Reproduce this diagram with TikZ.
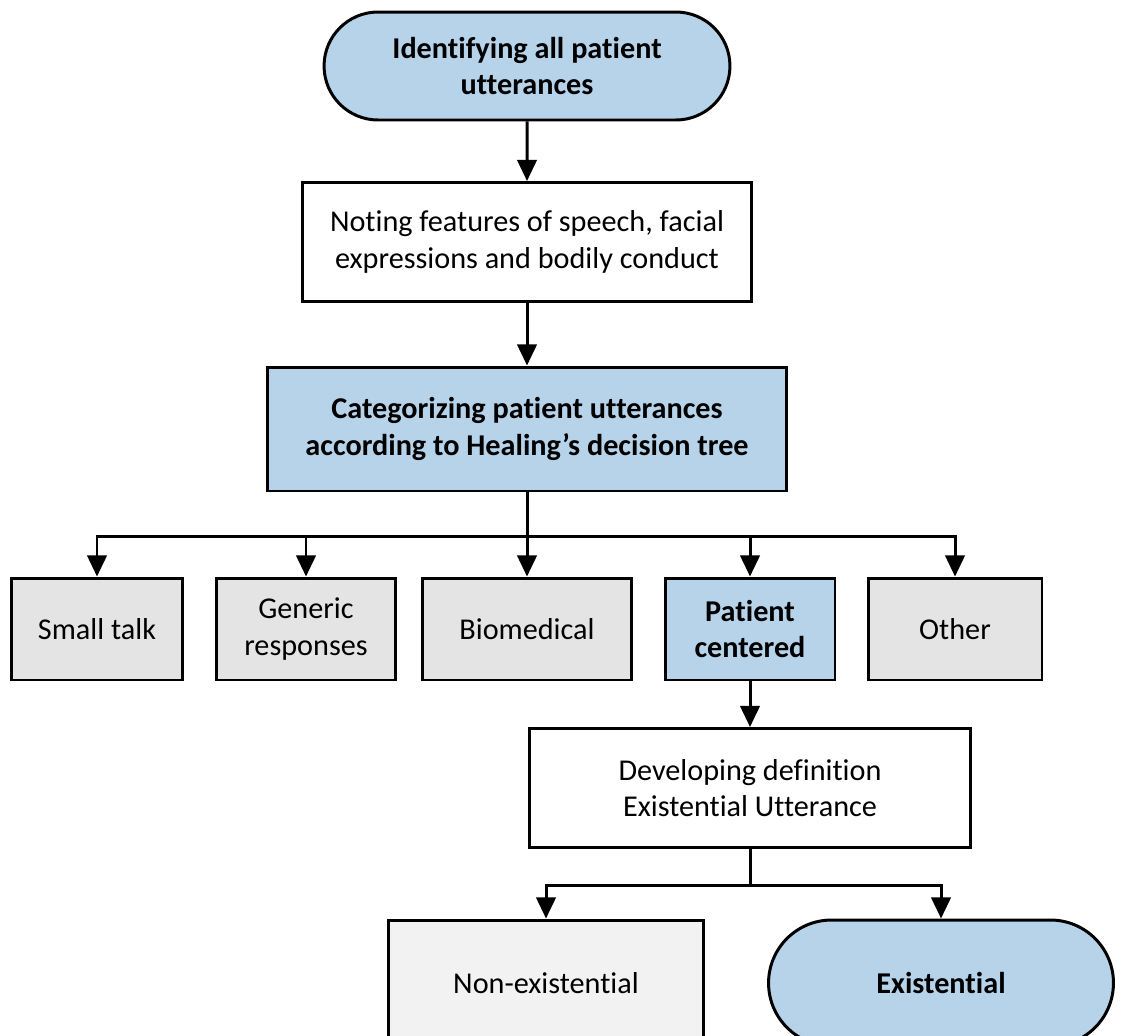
\documentclass[tikz,border=0pt]{standalone}
\usepackage{fontspec}
\setmainfont{Carlito}[Ligatures={NoCommon}]
\usetikzlibrary{arrows.meta,shapes.misc}

\definecolor{stepblue}{RGB}{183,211,234}
\definecolor{catgray}{RGB}{228,228,228}
\definecolor{palegray}{RGB}{242,242,242}

\tikzset{
  box/.style={draw=black,line width=1.7pt,rectangle,align=center,inner sep=2pt,
    font=\fontsize{17.2}{20.8}\selectfont},
  boldbox/.style={box,font=\fontsize{17.2}{20.8}\selectfont\bfseries},
  capsule/.style={boldbox,rounded rectangle},
  arr/.style={line width=1.7pt,-{Triangle[width=11pt,length=12pt]}},
  stem/.style={line width=1.7pt}
}

\begin{document}
\begin{tikzpicture}[x=0.02cm,y=-0.02cm]

%FRAME
\clip (0,0) rectangle (1121,1035);
\useasboundingbox (0,0) rectangle (1121,1035);

%MAIN STEPS
\node[capsule,fill=stepblue,minimum width=8.26cm,minimum height=2.16cm]
  (start) at (527,66) {Identifying all patient\\utterances};
\node[box,minimum width=8.98cm,minimum height=2.38cm]
  (noting) at (527,242) {Noting features of speech, facial\\expressions and bodily conduct};
\node[boldbox,fill=stepblue,minimum width=10.38cm,minimum height=2.48cm]
  (categ) at (527,429) {Categorizing patient utterances\\according to Healing’s decision tree};

%CATEGORIES
\node[box,fill=catgray,minimum width=3.42cm,minimum height=2.04cm] (small) at (97,629) {Small talk};
\node[box,fill=catgray,minimum width=3.58cm,minimum height=2.04cm] (generic) at (306,629) {Generic\\responses};
\node[box,fill=catgray,minimum width=4.18cm,minimum height=2.04cm] (biomed) at (527,629) {Biomedical};
\node[boldbox,fill=stepblue,minimum width=3.4cm,minimum height=2.04cm] (patient) at (750,629) {Patient\\centered};
\node[box,fill=catgray,minimum width=3.48cm,minimum height=2.04cm] (other) at (955,629) {Other};

%DEFINITION
\node[box,minimum width=8.84cm,minimum height=2.38cm]
  (develop) at (750,788) {Developing definition\\Existential Utterance};
\node[box,fill=palegray,minimum width=6.32cm,minimum height=2.52cm] (nonex) at (546,983) {Non-existential};
\node[capsule,fill=stepblue,minimum width=7.04cm,minimum height=2.52cm] (exist) at (941,983) {Existential};

%CONNECTORS
\coordinate (bus1) at (527,536);
\coordinate (bus2) at (750,885);

\draw[arr] (start) -- (noting);
\draw[arr] (noting) -- (categ);
\draw[stem] (categ) -- (bus1);
\foreach \n in {small,generic,biomed,patient,other}
  \draw[arr] (bus1) -| (\n);

\draw[arr] (patient) -- (develop);
\draw[stem] (develop) -- (bus2);
\draw[arr] (bus2) -| (nonex);
\draw[arr] (bus2) -| (exist);

\end{tikzpicture}
\end{document}
